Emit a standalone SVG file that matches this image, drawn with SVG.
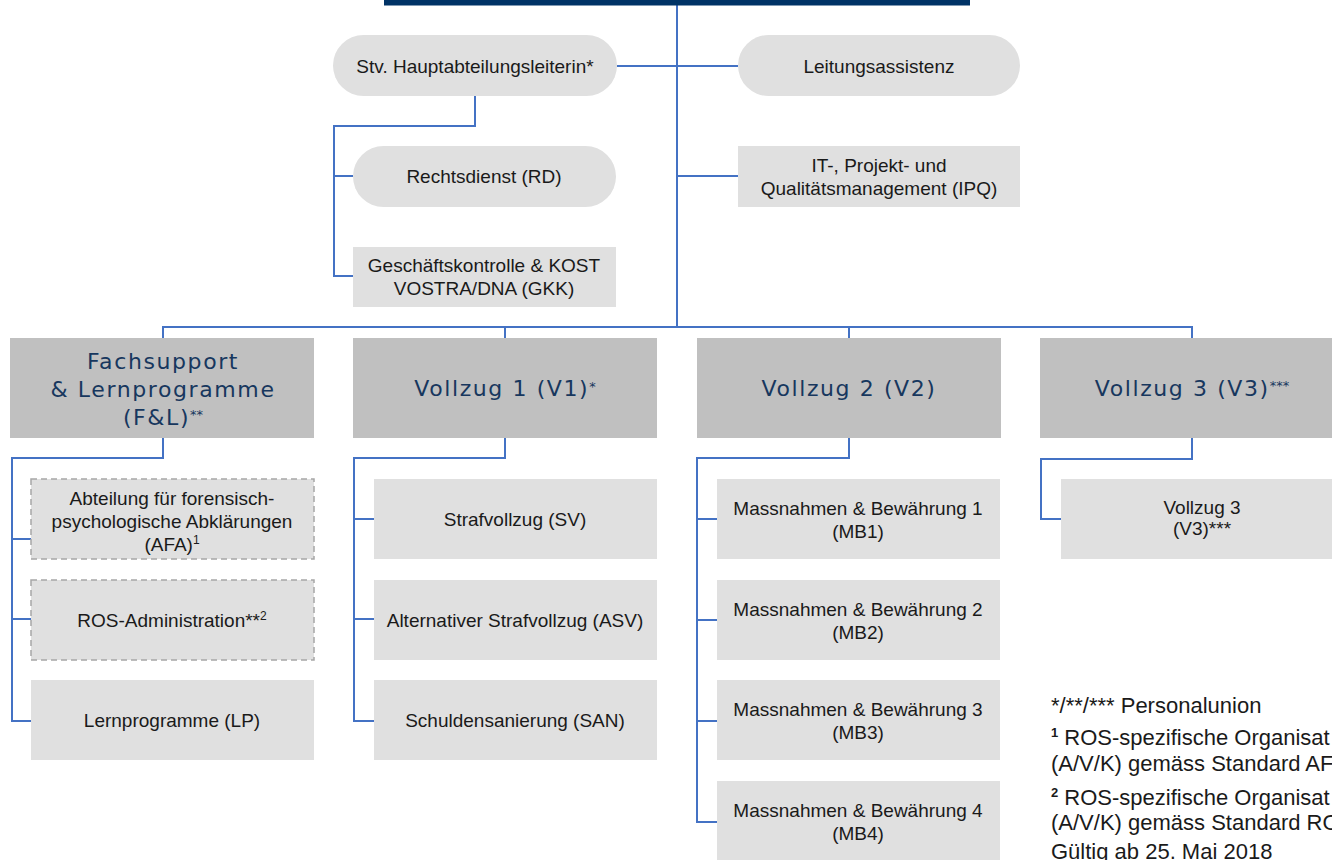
<svg xmlns="http://www.w3.org/2000/svg" width="1332" height="860" viewBox="0 0 1332 860">
<style>
.pill{fill:#e0e0e0}
.box{fill:#e0e0e0}
.dash{fill:#e0e0e0;stroke:#a6a6a6;stroke-width:1.5;stroke-dasharray:6 4}
.hdr{fill:#c0c0c0}
.t{font-family:"Liberation Sans",Arial,sans-serif;font-size:19px;fill:#1a1a1a;text-anchor:middle}
.h{font-family:"DejaVu Sans",Verdana,sans-serif;font-size:22px;fill:#17375e;text-anchor:middle;letter-spacing:1.6px}
.ast{font-size:13px;letter-spacing:0}
.sup{font-size:12px}
.fn{font-family:"Liberation Sans",Arial,sans-serif;font-size:22px;fill:#1a1a1a}
.fsup{font-size:13px;font-weight:bold}
#connectors path{fill:none;stroke:#4472c4;stroke-width:2}
</style>
<rect width="1332" height="860" fill="#ffffff"/>
<g id="connectors">
<path d="M677 5 V327"/>
<path d="M617 66 H738"/>
<path d="M475 96 V126 H334 V276 H353 M334 176 H353"/>
<path d="M677 176 H738"/>
<path d="M163 338 V327 H1192 V338 M505 327 V338 M849 327 V338"/>
<path d="M163 438 V458 H12 V721 H31 M12 539 H31 M12 619 H31"/>
<path d="M505 438 V458 H354 V721 H374 M354 519 H374 M354 619 H374"/>
<path d="M849 438 V458 H697 V822 H717 M697 519 H717 M697 620 H717 M697 721 H717"/>
<path d="M1192 438 V459 H1041 V519 H1061"/>
</g>
<g id="head"><rect x="384" y="0" width="586" height="5.5" fill="#003366"/></g>
<g id="stv"><rect class="pill" x="333" y="35" width="284" height="61" rx="30.5"/><text class="t" x="475" y="72.5">Stv. Hauptabteilungsleiterin*</text></g>
<g id="leitungsassistenz"><rect class="pill" x="738" y="35" width="282" height="61" rx="30.5"/><text class="t" x="879" y="72.5">Leitungsassistenz</text></g>
<g id="rd"><rect class="pill" x="353" y="146" width="263" height="61" rx="30.5"/><text class="t" x="484" y="183">Rechtsdienst (RD)</text></g>
<g id="gkk"><rect class="box" x="353" y="247" width="263" height="60"/><text class="t" x="484" y="272">Geschäftskontrolle &amp; KOST</text><text class="t" x="484" y="295">VOSTRA/DNA (GKK)</text></g>
<g id="ipq"><rect class="box" x="738" y="146" width="282" height="61"/><text class="t" x="879" y="172">IT-, Projekt- und</text><text class="t" x="879" y="195">Qualitätsmanagement (IPQ)</text></g>
<g id="fl"><rect class="hdr" x="10" y="338" width="304" height="100"/><text class="h" x="163" y="369">Fachsupport</text><text class="h" x="163" y="397">&amp; Lernprogramme</text><text class="h" x="163" y="425">(F&amp;L)<tspan class="ast" dy="-6">**</tspan></text></g>
<g id="v1"><rect class="hdr" x="353" y="338" width="304" height="100"/><text class="h" x="505" y="396">Vollzug 1 (V1)<tspan class="ast" font-size="15" dy="-5">*</tspan></text></g>
<g id="v2"><rect class="hdr" x="697" y="338" width="304" height="100"/><text class="h" x="849" y="396">Vollzug 2 (V2)</text></g>
<g id="v3"><rect class="hdr" x="1040" y="338" width="304" height="100"/><text class="h" x="1192" y="396">Vollzug 3 (V3)<tspan class="ast" dy="-6">***</tspan></text></g>
<g id="afa"><rect class="dash" x="31" y="479" width="283" height="80"/><text class="t" x="172" y="505">Abteilung für forensisch-</text><text class="t" x="172" y="528">psychologische Abklärungen</text><text class="t" x="172" y="551">(AFA)<tspan class="sup" dy="-7">1</tspan></text></g>
<g id="ros"><rect class="dash" x="31" y="580" width="283" height="80"/><text class="t" x="172" y="627">ROS-Administration**<tspan class="sup" dy="-7">2</tspan></text></g>
<g id="lp"><rect class="box" x="31" y="680" width="283" height="80"/><text class="t" x="172" y="727">Lernprogramme (LP)</text></g>
<g id="sv"><rect class="box" x="374" y="479" width="283" height="80"/><text class="t" x="515" y="526">Strafvollzug (SV)</text></g>
<g id="asv"><rect class="box" x="374" y="580" width="283" height="80"/><text class="t" x="515" y="627">Alternativer Strafvollzug (ASV)</text></g>
<g id="san"><rect class="box" x="374" y="680" width="283" height="80"/><text class="t" x="515" y="727">Schuldensanierung (SAN)</text></g>
<g id="mb1"><rect class="box" x="717" y="479" width="283" height="80"/><text class="t" x="858" y="515">Massnahmen &amp; Bewährung 1</text><text class="t" x="858" y="538">(MB1)</text></g>
<g id="mb2"><rect class="box" x="717" y="580" width="283" height="80"/><text class="t" x="858" y="616">Massnahmen &amp; Bewährung 2</text><text class="t" x="858" y="639">(MB2)</text></g>
<g id="mb3"><rect class="box" x="717" y="680" width="283" height="80"/><text class="t" x="858" y="716">Massnahmen &amp; Bewährung 3</text><text class="t" x="858" y="739">(MB3)</text></g>
<g id="mb4"><rect class="box" x="717" y="781" width="283" height="80"/><text class="t" x="858" y="817">Massnahmen &amp; Bewährung 4</text><text class="t" x="858" y="840">(MB4)</text></g>
<g id="v3sub"><rect class="box" x="1061" y="479" width="283" height="80"/><text class="t" x="1202" y="514">Vollzug 3</text><text class="t" x="1202" y="535">(V3)***</text></g>
<g id="legend">
<text class="fn" x="1051" y="713">*/**/*** Personalunion</text>
<text class="fn" x="1051" y="745"><tspan class="fsup" dy="-8">1</tspan><tspan dy="8"> ROS-spezifische Organisat</tspan></text>
<text class="fn" x="1051" y="771">(A/V/K) gemäss Standard AF</text>
<text class="fn" x="1051" y="805"><tspan class="fsup" dy="-8">2</tspan><tspan dy="8"> ROS-spezifische Organisat</tspan></text>
<text class="fn" x="1051" y="830">(A/V/K) gemäss Standard RO</text>
<text class="fn" x="1051" y="859">Gültig ab 25. Mai 2018</text>
</g>
</svg>
